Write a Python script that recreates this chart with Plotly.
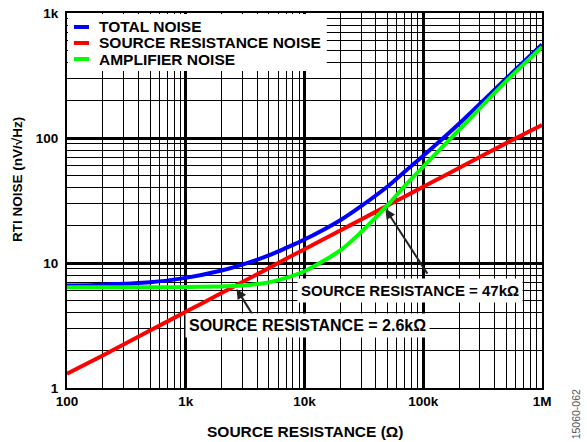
import plotly.graph_objects as go
import numpy as np

# Source resistance sweep (ohms) and RTI noise readings (nV/sqrt(Hz))
resistance = [100, 200, 500, 1e3, 2e3, 3e3, 5e3, 7e3, 1e4, 2e4, 3e4, 5e4, 7e4, 1e5, 2e5, 5e5, 1e6]
total_noise = [6.6, 6.7, 7.0, 7.6, 8.7, 9.7, 11.5, 13.2, 15.4, 22.0, 28.5, 40.9, 54.0, 72, 130, 299, 560]
source_noise = [1.3, 1.82, 2.88, 4.07, 5.75, 7.05, 9.1, 10.8, 12.9, 18.2, 22.3, 28.8, 34.1, 40.7, 57.6, 91, 127]
amplifier_noise = [6.4, 6.4, 6.4, 6.42, 6.5, 6.6, 7.0, 7.6, 8.6, 12.6, 17.7, 29.0, 41.5, 59, 116, 285, 535]

series_names = ["TOTAL NOISE", "SOURCE RESISTANCE NOISE", "AMPLIFIER NOISE"]
series_colors = ["#0000ff", "#ff0000", "#00ff00"]

x_tickvals = [1e2, 1e3, 1e4, 1e5, 1e6]
x_ticktext = ["100", "1k", "10k", "100k", "1M"]
y_tickvals = [1, 10, 100, 1000]
y_ticktext = ["1", "10", "100", "1k"]

# Crossover points called out on the chart (ohms, nV/sqrt(Hz))
cross_low = (2.6e3, 6.5)
cross_high = (47e3, 28.0)

FONT = "Liberation Sans, Arial, sans-serif"

fig = go.Figure()
for name, vals, col in zip(series_names, [total_noise, source_noise, amplifier_noise], series_colors):
    fig.add_trace(go.Scatter(
        x=resistance, y=vals, name=name, mode="lines", showlegend=False,
        line=dict(color=col, width=4, shape="spline", smoothing=0.8),
    ))

axis_common = dict(
    type="log",
    showline=True, mirror=True, linecolor="black", linewidth=2,
    showgrid=True, gridcolor="black", gridwidth=2.5,
    ticks="", zeroline=False,
    tickfont=dict(family=FONT, size=13.5, color="black", weight="bold"),
    minor=dict(dtick="D1", showgrid=True, gridcolor="black", gridwidth=1.4, ticks=""),
)

fig.update_xaxes(range=[2, 6], tickvals=x_tickvals, ticktext=x_ticktext, **axis_common)
fig.update_yaxes(range=[0, 3], tickvals=y_tickvals, ticktext=y_ticktext,
                 ticklabelstandoff=4, **axis_common)

# Axis titles
fig.add_annotation(text="SOURCE RESISTANCE (Ω)", xref="paper", yref="paper",
                   x=0.501, y=-0.117, showarrow=False, yanchor="middle",
                   font=dict(family=FONT, size=15.5, color="black", weight="bold"))
fig.add_annotation(text="RTI NOISE (nV/√Hz)", xref="paper", yref="paper",
                   x=-0.103, y=0.555, showarrow=False, textangle=-90,
                   xanchor="center", yanchor="middle",
                   font=dict(family=FONT, size=13.5, color="black", weight="bold"))

# Legend: white panel, short colour swatches and labels
legend_rows_y = [0.9627, 0.92, 0.8773]
shapes = [dict(type="rect", xref="paper", yref="paper", x0=0.0021, x1=0.547,
               y0=0.8453, y1=0.9973, fillcolor="white", line=dict(width=0), layer="above")]
for ry, col in zip(legend_rows_y, series_colors):
    shapes.append(dict(type="line", xref="paper", yref="paper", x0=0.0147, x1=0.0463,
                       y0=ry, y1=ry, line=dict(color=col, width=4), layer="above"))
fig.update_layout(shapes=shapes)
for ry, name in zip(legend_rows_y, series_names):
    fig.add_annotation(text=name, xref="paper", yref="paper", x=0.0632, y=ry,
                       xanchor="left", yanchor="middle", showarrow=False,
                       font=dict(family=FONT, size=15.5, color="black", weight="bold"))

# Callout arrows to the crossover points
arrow_style = dict(showarrow=True, arrowhead=2, arrowsize=1, arrowwidth=2,
                   arrowcolor="#222222", xref="x", yref="y", axref="pixel", ayref="pixel", text="")
fig.add_annotation(x=np.log10(cross_high[0]), y=np.log10(cross_high[1]), ax=44, ay=68,
                   standoff=2, **arrow_style)
fig.add_annotation(x=np.log10(cross_low[0]), y=np.log10(cross_low[1]), ax=18, ay=29,
                   standoff=3, **arrow_style)

fig.add_annotation(text="SOURCE RESISTANCE = 47kΩ", xref="paper", yref="paper",
                   x=0.4837, y=0.259, xanchor="left", yanchor="middle", showarrow=False,
                   bgcolor="white", borderpad=3,
                   font=dict(family=FONT, size=15, color="black", weight="bold"))
fig.add_annotation(text="SOURCE RESISTANCE = 2.6kΩ", xref="paper", yref="paper",
                   x=0.2476, y=0.166, xanchor="left", yanchor="middle", showarrow=False,
                   bgcolor="white", borderpad=3,
                   font=dict(family=FONT, size=16, color="black", weight="bold"))

fig.add_annotation(text="15060-062", xref="paper", yref="paper", x=1.0705, y=-0.069,
                   textangle=-90, showarrow=False, xanchor="center", yanchor="middle",
                   font=dict(family=FONT, size=10.5, color="#555555"))

fig.update_layout(
    width=587, height=442,
    margin=dict(l=67, r=45, t=13, b=54, autoexpand=False),
    paper_bgcolor="white", plot_bgcolor="white",
)

fig.write_html("out.html")
